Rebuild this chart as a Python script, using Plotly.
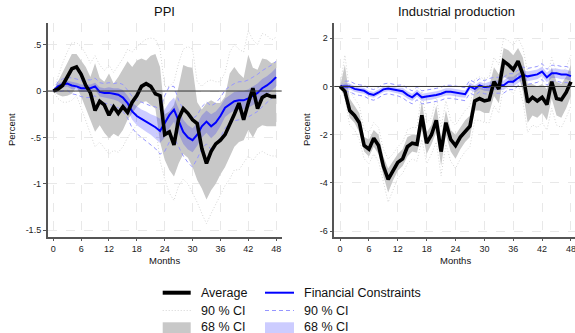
import plotly.graph_objects as go

months = list(range(49))
x_ticks = [0, 6, 12, 18, 24, 30, 36, 42, 48]

ppi_ticks = [0.5, 0, -0.5, -1, -1.5]
ppi_tick_text = [".5", "0", "-.5", "-1", "-1.5"]
ip_ticks = [2, 0, -2, -4, -6]
ip_tick_text = ["2", "0", "-2", "-4", "-6"]

# ---------- PPI ----------
ppi_avg = [0, 0.02, 0.06, 0.15, 0.24, 0.26, 0.18, 0.06, -0.02, -0.21, -0.11, -0.15, -0.26, -0.17, -0.24, -0.17,
           -0.23, -0.12, -0.05, 0.05, 0.08, 0.05, -0.03, -0.05, -0.47, -0.44, -0.58, -0.30, -0.19, -0.24, -0.31,
           -0.35, -0.62, -0.78, -0.65, -0.57, -0.53, -0.47, -0.37, -0.25, -0.13, -0.31, -0.13, 0.03, -0.19, -0.07,
           -0.04, -0.06, -0.06]
ppi_avg68_hi = [0, 0.1, 0.2, 0.3, 0.4, 0.4, 0.33, 0.26, 0.15, 0.3, 0.14, 0.1, 0.19, 0.08, 0.15, 0.23, 0.32, 0.26,
                0.33, 0.35, 0.33, 0.38, 0.4, 0.26, -0.25, -0.22, -0.15, 0.05, 0.28, 0.26, 0.25, -0.12, -0.2, -0.13,
                -0.1, -0.13, -0.13, -0.06, 0.19, 0.26, 0.19, 0.14, 0.39, 0.25, 0.23, 0.35, 0.34, 0.3, 0.32]
ppi_avg68_lo = [0, -0.04, -0.06, -0.05, -0.03, 0.05, -0.06, -0.17, -0.31, -0.44, -0.37, -0.45, -0.51, -0.46, -0.49,
                -0.42, -0.31, -0.24, -0.17, -0.12, -0.11, -0.15, -0.19, -0.55, -0.74, -0.85, -0.92, -0.78, -0.68,
                -0.72, -0.82, -0.96, -1.05, -1.17, -1.07, -1.0, -0.9, -0.82, -0.72, -0.6, -0.55, -0.53, -0.42, -0.5,
                -0.4, -0.37, -0.38, -0.38, -0.38]
ppi_avg90_hi = [0, 0.15, 0.3, 0.42, 0.52, 0.52, 0.48, 0.4, 0.3, 0.38, 0.28, 0.22, 0.28, 0.2, 0.28, 0.35, 0.45, 0.42,
                0.48, 0.52, 0.56, 0.57, 0.56, 0.45, 0.05, 0.05, 0.1, 0.3, 0.45, 0.48, 0.45, 0.1, 0.05, 0.1, 0.12,
                0.1, 0.1, 0.2, 0.42, 0.5, 0.45, 0.42, 0.65, 0.55, 0.5, 0.62, 0.6, 0.55, 0.58]
ppi_avg90_lo = [0, -0.08, -0.12, -0.12, -0.1, -0.05, -0.18, -0.32, -0.47, -0.6, -0.55, -0.62, -0.68, -0.64, -0.66,
                -0.6, -0.5, -0.43, -0.36, -0.3, -0.3, -0.32, -0.36, -0.75, -0.95, -1.1, -1.18, -1.02, -0.95, -1.0,
                -1.1, -1.2, -1.32, -1.43, -1.32, -1.22, -1.12, -1.02, -0.95, -0.85, -0.85, -0.78, -0.7, -0.75,
                -0.68, -0.65, -0.68, -0.7, -0.7]
ppi_fc = [0, 0.05, 0.07, 0.08, 0.06, 0.05, 0.03, 0.03, 0.03, 0.05, -0.01, -0.02, -0.02, -0.03, -0.04, -0.07, -0.13,
          -0.22, -0.27, -0.3, -0.33, -0.36, -0.39, -0.43, -0.35, -0.26, -0.2, -0.33, -0.44, -0.5, -0.53, -0.47,
          -0.38, -0.33, -0.38, -0.34, -0.27, -0.18, -0.14, -0.11, -0.1, -0.1, -0.08, -0.05, -0.02, 0.03, 0.06,
          0.1, 0.15]
ppi_fc68_hi = [0, 0.08, 0.1, 0.11, 0.1, 0.09, 0.07, 0.07, 0.07, 0.09, 0.04, 0.03, 0.04, 0.03, 0.03, 0.01, -0.05,
               -0.13, -0.17, -0.2, -0.22, -0.25, -0.27, -0.3, -0.2, -0.12, -0.07, -0.2, -0.31, -0.37, -0.4, -0.35,
               -0.26, -0.21, -0.25, -0.22, -0.16, -0.08, -0.04, -0.01, 0, 0, 0.02, 0.05, 0.08, 0.13, 0.16, 0.2, 0.25]
ppi_fc68_lo = [0, 0.02, 0.04, 0.05, 0.02, 0.01, -0.01, -0.01, -0.01, 0.01, -0.06, -0.07, -0.08, -0.09, -0.11,
               -0.15, -0.21, -0.31, -0.37, -0.4, -0.44, -0.47, -0.51, -0.56, -0.5, -0.4, -0.33, -0.46, -0.57, -0.63,
               -0.66, -0.59, -0.5, -0.45, -0.51, -0.46, -0.38, -0.28, -0.24, -0.21, -0.2, -0.2, -0.18, -0.15, -0.12,
               -0.07, -0.04, 0, 0.05]
ppi_fc90_hi = [0, 0.1, 0.13, 0.15, 0.14, 0.13, 0.11, 0.12, 0.12, 0.14, 0.09, 0.08, 0.09, 0.08, 0.09, 0.07, 0.01,
               -0.06, -0.1, -0.12, -0.14, -0.16, -0.17, -0.2, -0.05, 0.05, 0.05, -0.1, -0.2, -0.27, -0.3, -0.26,
               -0.17, -0.12, -0.16, -0.13, -0.07, 0.01, 0.05, 0.08, 0.1, 0.1, 0.12, 0.15, 0.18, 0.22, 0.25, 0.28, 0.32]
ppi_fc90_lo = [0, -0.01, 0, 0.01, -0.03, -0.04, -0.06, -0.07, -0.07, -0.05, -0.12, -0.13, -0.14, -0.16, -0.18,
               -0.22, -0.29, -0.4, -0.46, -0.5, -0.54, -0.57, -0.62, -0.68, -0.65, -0.55, -0.5, -0.6, -0.7, -0.77,
               -0.82, -0.73, -0.62, -0.57, -0.63, -0.58, -0.5, -0.4, -0.35, -0.32, -0.31, -0.3, -0.28, -0.25, -0.22,
               -0.17, -0.13, -0.08, -0.03]

# ---------- Industrial production ----------
ip_avg = [0, -0.2, -1.0, -1.2, -1.5, -2.45, -2.6, -2.15, -2.45, -3.3, -3.85, -3.5, -3.15, -3.0, -2.5, -2.35, -2.4,
          -1.2, -2.35, -2.0, -1.4, -2.7, -1.5, -2.2, -2.45, -2.1, -1.85, -1.65, -0.6, -0.5, -0.6, -0.55, 0.2, -0.1,
          1.05, 0.9, 0.7, 1.05, 0.5, -0.65, -0.45, -0.6, -0.45, -0.75, 0.2, -0.5, -0.55, -0.25, 0.2]
ip_avg68_hi = [0, 0.9, -0.5, -0.8, -1.1, -2.1, -2.2, -1.8, -2.0, -2.9, -3.4, -3.1, -2.8, -2.6, -2.1, -2.0, -2.0,
               -0.6, -1.9, -1.6, -0.8, -2.1, -1.0, -1.8, -2.0, -1.7, -1.4, -1.2, -0.1, 0.0, -0.1, 0.0, 0.8, 0.5,
               1.6, 1.5, 1.3, 1.6, 1.2, 0.1, 0.1, 0.0, 0.1, -0.1, 0.8, 0.2, 0.1, 0.4, 0.9]
ip_avg68_lo = [0, -0.35, -1.3, -1.5, -1.9, -2.7, -2.9, -2.5, -2.8, -3.7, -4.4, -3.9, -3.5, -3.3, -2.9, -2.7, -2.75,
               -1.8, -2.8, -2.4, -1.9, -3.3, -2.0, -2.7, -3.0, -2.6, -2.3, -2.1, -1.0, -1.0, -1.1, -1.1, -0.4, -0.7,
               0.4, 0.3, 0.1, 0.5, -0.2, -1.5, -1.2, -1.3, -1.1, -1.4, -0.5, -1.2, -1.3, -0.9, -0.4]
ip_avg90_hi = [0, 1.3, -0.2, -0.5, -0.8, -1.8, -1.9, -1.5, -1.7, -2.6, -3.0, -2.8, -2.5, -2.3, -1.8, -1.7, -1.7,
               -0.2, -1.5, -1.3, -0.4, -1.7, -0.6, -1.4, -1.6, -1.3, -1.0, -0.8, 0.3, 0.4, 0.3, 0.4, 1.2, 0.9, 2.0,
               1.9, 1.7, 2.0, 1.6, 0.6, 0.5, 0.4, 0.5, 0.3, 1.2, 0.6, 0.5, 0.8, 1.3]
ip_avg90_lo = [0, -0.5, -1.6, -1.8, -2.2, -3.0, -3.2, -2.8, -3.1, -4.0, -4.8, -4.3, -3.8, -3.6, -3.2, -3.0, -3.1,
               -2.2, -3.2, -2.8, -2.3, -3.7, -2.4, -3.1, -3.4, -3.0, -2.7, -2.5, -1.4, -1.4, -1.5, -1.5, -0.8, -1.1,
               0.0, -0.1, -0.3, 0.1, -0.6, -1.9, -1.6, -1.7, -1.5, -1.8, -0.9, -1.6, -1.7, -1.3, -0.8]
ip_fc = [0, 0, 0, -0.1, -0.15, -0.18, -0.3, -0.35, -0.25, -0.12, -0.08, -0.12, -0.17, -0.2, -0.35, -0.45, -0.28,
         -0.45, -0.42, -0.4, -0.35, -0.3, -0.22, -0.22, -0.25, -0.3, -0.32, 0.0, -0.1, 0.05, -0.03, 0.0, 0.05, 0.05,
         0.05, 0.2, 0.2, 0.35, 0.48, 0.42, 0.45, 0.5, 0.62, 0.38, 0.55, 0.55, 0.5, 0.5, 0.43]
ip_fc68_hi = [0, 0.12, 0.12, 0.02, -0.03, -0.06, -0.18, -0.23, -0.13, 0, 0.04, 0, -0.05, -0.05, -0.2, -0.3, -0.13,
              -0.3, -0.27, -0.25, -0.2, -0.15, -0.07, -0.07, -0.1, -0.15, -0.17, 0.15, 0.05, 0.2, 0.12, 0.2, 0.25,
              0.25, 0.25, 0.4, 0.4, 0.55, 0.68, 0.62, 0.65, 0.7, 0.82, 0.58, 0.75, 0.75, 0.7, 0.7, 0.63]
ip_fc68_lo = [0, -0.12, -0.12, -0.22, -0.27, -0.3, -0.42, -0.47, -0.37, -0.24, -0.2, -0.24, -0.29, -0.35, -0.5,
              -0.6, -0.43, -0.6, -0.57, -0.55, -0.5, -0.45, -0.37, -0.37, -0.4, -0.45, -0.47, -0.15, -0.25, -0.1,
              -0.18, -0.2, -0.15, -0.15, -0.15, 0, 0, 0.15, 0.28, 0.22, 0.25, 0.3, 0.42, 0.18, 0.35, 0.35, 0.3, 0.3,
              0.23]
ip_fc90_hi = [0, 0.22, 0.22, 0.12, 0.07, 0.04, -0.08, -0.13, -0.03, 0.1, 0.14, 0.1, 0.05, 0.07, -0.08, -0.18, -0.01,
              -0.18, -0.15, -0.13, -0.08, -0.03, 0.05, 0.05, 0.02, -0.03, -0.05, 0.27, 0.17, 0.32, 0.24, 0.33, 0.38,
              0.38, 0.38, 0.53, 0.53, 0.68, 0.81, 0.75, 0.78, 0.83, 0.95, 0.71, 0.88, 0.88, 0.83, 0.83, 0.76]
ip_fc90_lo = [0, -0.22, -0.22, -0.32, -0.37, -0.4, -0.52, -0.57, -0.47, -0.34, -0.3, -0.34, -0.39, -0.47, -0.62,
              -0.72, -0.55, -0.72, -0.69, -0.67, -0.62, -0.57, -0.49, -0.49, -0.52, -0.57, -0.59, -0.27, -0.37,
              -0.22, -0.3, -0.33, -0.28, -0.28, -0.28, -0.13, -0.13, 0.02, 0.15, 0.09, 0.12, 0.17, 0.29, 0.05, 0.22,
              0.22, 0.17, 0.17, 0.1]

FONT = "Liberation Sans, Arial, sans-serif"
GRAY68 = "rgb(200,200,200)"
BLUE68 = "rgba(0,0,255,0.2)"
GRAY90 = "rgb(212,212,212)"
BLUE90 = "rgb(150,150,255)"
AXCOL = "#555555"

W, H = 575, 333


def px(x):
    return x / W


def py(y):
    return 1 - y / H


fig = go.Figure()


def band(lo, hi, color, xa, ya):
    fig.add_trace(go.Scatter(x=months + months[::-1], y=hi + lo[::-1], fill="toself", fillcolor=color,
                             line=dict(width=0), mode="lines", hoverinfo="skip", showlegend=False,
                             xaxis=xa, yaxis=ya))


def line(y, color, width, dash, xa, ya):
    fig.add_trace(go.Scatter(x=months, y=y, mode="lines", line=dict(color=color, width=width, dash=dash),
                             showlegend=False, xaxis=xa, yaxis=ya))


panels = [
    ("x", "y", ppi_avg, ppi_avg68_lo, ppi_avg68_hi, ppi_avg90_lo, ppi_avg90_hi,
     ppi_fc, ppi_fc68_lo, ppi_fc68_hi, ppi_fc90_lo, ppi_fc90_hi),
    ("x2", "y2", ip_avg, ip_avg68_lo, ip_avg68_hi, ip_avg90_lo, ip_avg90_hi,
     ip_fc, ip_fc68_lo, ip_fc68_hi, ip_fc90_lo, ip_fc90_hi),
]
for (xa, ya, av, a68l, a68h, a90l, a90h, fc, f68l, f68h, f90l, f90h) in panels:
    band(a68l, a68h, GRAY68, xa, ya)
    band(f68l, f68h, BLUE68, xa, ya)
    line(a90h, GRAY90, 1, "1px,2px", xa, ya)
    line(a90l, GRAY90, 1, "1px,2px", xa, ya)
    line(f90h, BLUE90, 1, "4px,3px", xa, ya)
    line(f90l, BLUE90, 1, "4px,3px", xa, ya)
    line(fc, "#0000ff", 2, "solid", xa, ya)
    line(av, "#000000", 3.6, "solid", xa, ya)

ydom = [py(236.7), py(23.3)]
common_x = dict(tickvals=x_ticks, ticks="outside", ticklen=3, tickcolor=AXCOL, showline=True, linecolor=AXCOL,
                linewidth=1.5, showgrid=True, gridcolor="#e8e8e8", griddash="dash", gridwidth=1, zeroline=False,
                ticklabeloverflow="allow", tickfont=dict(family=FONT, size=9, color="#222"))
common_y = dict(ticks="outside", ticklen=3, tickcolor=AXCOL, showline=True, linecolor=AXCOL, linewidth=1.5,
                showgrid=True, gridcolor="#e8e8e8", griddash="dash", gridwidth=1, zeroline=False,
                tickfont=dict(family=FONT, size=9, color="#222"), domain=ydom)

xa1 = dict(common_x); xa1.update(domain=[px(47.7), px(281.7)], range=[-1.2, 49.2], anchor="y")
xa2 = dict(common_x); xa2.update(domain=[px(334.3), 1.0], range=[-1.2, 48.84], anchor="y2")
ya1 = dict(common_y); ya1.update(range=[-1.57, 0.73], tickvals=ppi_ticks, ticktext=ppi_tick_text, anchor="x")
ya2 = dict(common_y); ya2.update(range=[-6.23, 2.62], tickvals=ip_ticks, ticktext=ip_tick_text, anchor="x2")

shapes = []
for xr, yr in (("x domain", "y"), ("x2 domain", "y2")):
    shapes.append(dict(type="line", xref=xr, yref=yr, x0=0, x1=1, y0=0, y1=0,
                       line=dict(color="#333333", width=1), layer="above"))

annotations = []


def txt(text, x, y, size, xanchor="center", angle=0):
    annotations.append(dict(text=text, x=px(x), y=py(y), xref="paper", yref="paper", showarrow=False,
                            xanchor=xanchor, yanchor="middle", textangle=angle,
                            font=dict(family=FONT, size=size, color="#111")))


txt("PPI", 164.7, 12, 13)
txt("Industrial production", 456, 12, 13)
txt("Months", 164.7, 260, 9.5)
txt("Months", 455, 260, 9.5)
txt("Percent", 11, 130, 9.5, angle=-90)
txt("Percent", 306, 130, 9.5, angle=-90)

# legend
shapes.append(dict(type="line", xref="paper", yref="paper", x0=px(162.7), x1=px(190.7), y0=py(292.7), y1=py(292.7),
                   line=dict(color="black", width=4)))
shapes.append(dict(type="line", xref="paper", yref="paper", x0=px(265), x1=px(294), y0=py(292.7), y1=py(292.7),
                   line=dict(color="#0000ff", width=2)))
shapes.append(dict(type="line", xref="paper", yref="paper", x0=px(162.7), x1=px(190.7), y0=py(310.5), y1=py(310.5),
                   line=dict(color=GRAY90, width=1, dash="1px,2px")))
shapes.append(dict(type="line", xref="paper", yref="paper", x0=px(265), x1=px(294), y0=py(310.5), y1=py(310.5),
                   line=dict(color=BLUE90, width=1, dash="4px,3px")))
shapes.append(dict(type="rect", xref="paper", yref="paper", x0=px(162.7), x1=px(190.7), y0=py(322.3), y1=py(340),
                   fillcolor=GRAY68, line=dict(width=0)))
shapes.append(dict(type="rect", xref="paper", yref="paper", x0=px(265), x1=px(294), y0=py(322.3), y1=py(340),
                   fillcolor="rgb(204,204,255)", line=dict(width=0)))
txt("Average", 199, 293, 12.5, xanchor="left")
txt("Financial Constraints", 301.7, 293, 12.5, xanchor="left")
txt("90 % CI", 199, 311, 12.5, xanchor="left")
txt("90 % CI", 301.7, 311, 12.5, xanchor="left")
txt("68 % CI", 199, 327, 12.5, xanchor="left")
txt("68 % CI", 301.7, 327, 12.5, xanchor="left")

fig.update_layout(width=W, height=H, margin=dict(l=0, r=0, t=0, b=0), paper_bgcolor="white",
                  plot_bgcolor="white", showlegend=False, xaxis=xa1, xaxis2=xa2, yaxis=ya1, yaxis2=ya2,
                  shapes=shapes, annotations=annotations)
fig.write_html("out.html", config={"displayModeBar": False},
               post_script="document.body.style.margin='0px';document.body.style.overflow='hidden';")
